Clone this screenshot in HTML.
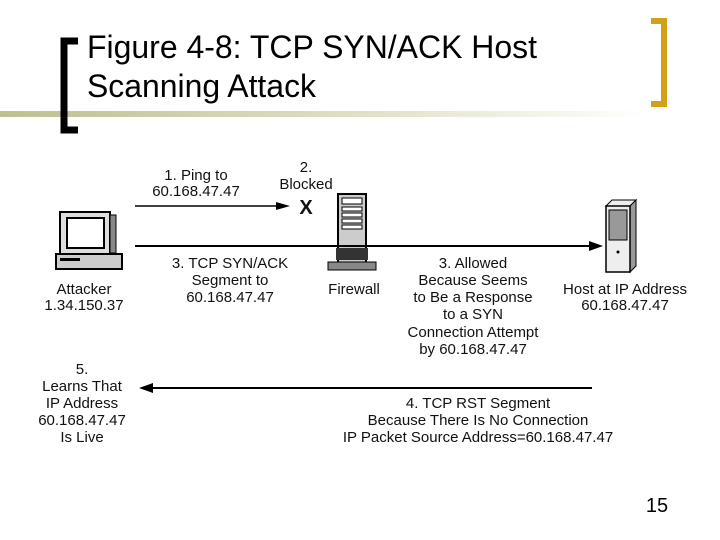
<!DOCTYPE html>
<html><head><meta charset="utf-8"><style>
html,body{margin:0;padding:0;background:#fff;}
svg{display:block;font-family:"Liberation Sans",Arial,sans-serif;}
</style></head><body>
<svg width="720" height="540" viewBox="0 0 720 540">
<defs>
<linearGradient id="g" x1="0" x2="1"><stop offset="0" stop-color="#bfbf90"/><stop offset="0.5" stop-color="#e0e0c4"/><stop offset="0.9" stop-color="#ffffff"/></linearGradient>
</defs>
<rect x="0" y="111" width="720" height="6" fill="url(#g)"/>
<path d="M78 41 H64 V130 H78" fill="none" stroke="#000" stroke-width="7"/>
<path d="M651 21 H664 V104 H651" fill="none" stroke="#d4a017" stroke-width="6"/>
<text x="87" y="58" font-size="32" textLength="450" lengthAdjust="spacingAndGlyphs" fill="#000">Figure 4-8: TCP SYN/ACK Host</text>
<text x="87" y="97" font-size="32" textLength="229" lengthAdjust="spacingAndGlyphs" fill="#000">Scanning Attack</text>

<g font-size="15" fill="#111" text-anchor="middle">
<g>
<rect x="60" y="212" width="50" height="42" fill="#ddd" stroke="#000" stroke-width="2"/>
<rect x="67" y="218" width="37" height="30" fill="#fff" stroke="#000" stroke-width="2"/>
<rect x="110" y="215" width="6" height="38" fill="#888" stroke="#000"/>
<rect x="56" y="254" width="66" height="15" fill="#ccc" stroke="#000" stroke-width="2"/>
<rect x="60" y="258" width="20" height="3" fill="#000"/>
</g>
<text x="84" y="294">Attacker</text>
<text x="84" y="310">1.34.150.37</text>

<g>
<rect x="338" y="194" width="28" height="70" fill="#ccc" stroke="#000" stroke-width="2"/>
<rect x="342" y="198" width="20" height="6" fill="#fff" stroke="#000"/>
<rect x="342" y="207" width="20" height="4" fill="#fff" stroke="#000"/>
<rect x="342" y="213" width="20" height="4" fill="#fff" stroke="#000"/>
<rect x="342" y="219" width="20" height="4" fill="#fff" stroke="#000"/>
<rect x="342" y="225" width="20" height="4" fill="#fff" stroke="#000"/>
<rect x="336" y="248" width="32" height="12" fill="#333"/>
<rect x="328" y="262" width="48" height="8" fill="#888" stroke="#000"/>
</g>
<text x="354" y="294">Firewall</text>

<g>
<path d="M606 206 L612 200 H636 L630 206 Z" fill="#eee" stroke="#000"/>
<path d="M630 206 L636 200 V266 L630 272 Z" fill="#999" stroke="#000"/>
<rect x="606" y="206" width="24" height="66" fill="#eee" stroke="#000" stroke-width="1.5"/>
<rect x="609" y="210" width="18" height="30" fill="#999" stroke="#000"/>
<circle cx="618" cy="252" r="1.5" fill="#000"/>
</g>
<text x="625" y="294">Host at IP Address</text>
<text x="625" y="310">60.168.47.47</text>

<line x1="135" y1="206" x2="280" y2="206" stroke="#000" stroke-width="1.5"/>
<path d="M290 206 L276 202 L276 210 Z" fill="#000"/>
<text x="196" y="180">1. Ping to</text>
<text x="196" y="196">60.168.47.47</text>
<text x="306" y="172">2.</text>
<text x="306" y="189">Blocked</text>
<text x="306" y="214" font-size="20" font-weight="bold">X</text>

<line x1="135" y1="246" x2="592" y2="246" stroke="#000" stroke-width="2"/>
<path d="M603 246 L589 241 L589 251 Z" fill="#000"/>
<text x="230" y="268">3. TCP SYN/ACK</text>
<text x="230" y="285">Segment to</text>
<text x="230" y="302">60.168.47.47</text>
<text x="473" y="268">3. Allowed</text>
<text x="473" y="285">Because Seems</text>
<text x="473" y="302">to Be a Response</text>
<text x="473" y="319">to a SYN</text>
<text x="473" y="337">Connection Attempt</text>
<text x="473" y="354">by 60.168.47.47</text>

<line x1="150" y1="388" x2="592" y2="388" stroke="#000" stroke-width="2"/>
<path d="M139 388 L153 383 L153 393 Z" fill="#000"/>
<text x="82" y="374">5.</text>
<text x="82" y="391">Learns That</text>
<text x="82" y="408">IP Address</text>
<text x="82" y="425">60.168.47.47</text>
<text x="82" y="442">Is Live</text>
<text x="478" y="408">4. TCP RST Segment</text>
<text x="478" y="425">Because There Is No Connection</text>
<text x="478" y="442">IP Packet Source Address=60.168.47.47</text>
</g>
<text x="657" y="512" font-size="20" text-anchor="middle" fill="#000">15</text>
</svg>
</body></html>
